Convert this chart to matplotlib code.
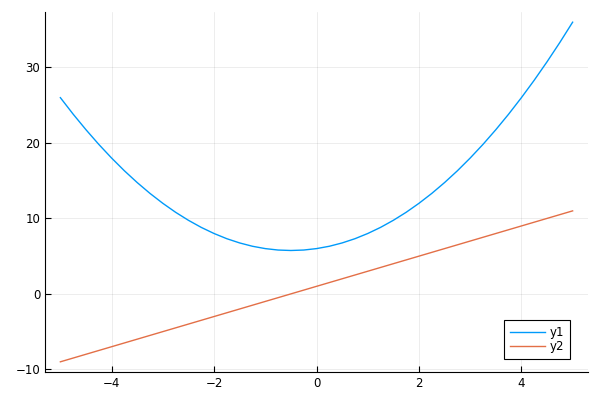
import numpy as np
import matplotlib.pyplot as plt

# values at steps of 0.25
x = [-5.0, -4.75, -4.5, -4.25, -4.0, -3.75, -3.5, -3.25, -3.0, -2.75, -2.5,
     -2.25, -2.0, -1.75, -1.5, -1.25, -1.0, -0.75, -0.5, -0.25, 0.0,
     0.25, 0.5, 0.75, 1.0, 1.25, 1.5, 1.75, 2.0, 2.25, 2.5,
     2.75, 3.0, 3.25, 3.5, 3.75, 4.0, 4.25, 4.5, 4.75, 5.0]
y1 = [26.0, 23.81, 21.75, 19.81, 18.0, 16.31, 14.75, 13.31, 12.0, 10.81, 9.75,
      8.81, 8.0, 7.31, 6.75, 6.31, 6.0, 5.81, 5.75, 5.81, 6.0,
      6.31, 6.75, 7.31, 8.0, 8.81, 9.75, 10.81, 12.0, 13.31, 14.75,
      16.31, 18.0, 19.81, 21.75, 23.81, 26.0, 28.31, 30.75, 33.31, 36.0]
x2 = [-5.0, 5.0]
y2 = [-9.0, 11.0]

fig = plt.figure(figsize=(6, 4), dpi=100)
ax = fig.add_axes([0.075, 0.07, 0.905, 0.9])

ax.plot(x, y1, color="#009AFA", lw=1, label="y1")
ax.plot(x2, y2, color="#E36F47", lw=1, label="y2")

ax.set_xlim(-5.3, 5.3)
ax.set_ylim(-10.35, 37.35)
ax.set_xticks([-4, -2, 0, 2, 4])
ax.set_xticklabels(["\u22124", "\u22122", "0", "2", "4"])
ax.set_yticks([-10, 0, 10, 20, 30])
ax.set_yticklabels(["\u221210", "0", "10", "20", "30"])

ax.grid(True, color="black", alpha=0.1, lw=0.5)
ax.spines["top"].set_visible(False)
ax.spines["right"].set_visible(False)
ax.tick_params(direction="in", length=4, width=0.8, labelsize=8.5, colors="black")

leg = ax.legend(loc="lower right", bbox_to_anchor=(0.967, 0.036), fontsize=8.5,
                fancybox=False, framealpha=1, edgecolor="black", borderaxespad=0,
                handlelength=3.0, labelspacing=0.1, handletextpad=0.4,
                borderpad=0.5)
leg.get_frame().set_linewidth(0.8)

fig.savefig("out.png", dpi=100)
